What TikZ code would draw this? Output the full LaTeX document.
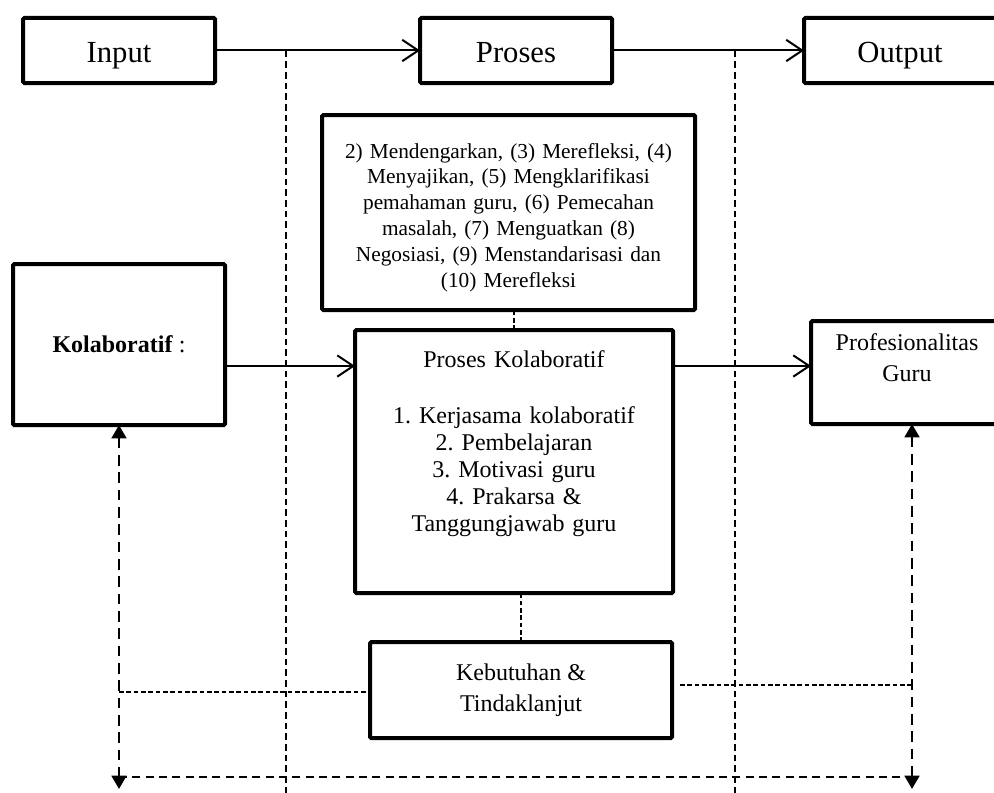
\documentclass[tikz,border=0pt]{standalone}
\usepackage{fontspec}
\setmainfont{Liberation Serif}
\usetikzlibrary{arrows.meta,positioning}
\frenchspacing

\begin{document}
\begin{tikzpicture}[
          x=0.75pt, y=-0.75pt,
          box/.style={draw, line width=3pt, rounded corners=1pt, inner sep=0pt, outer sep=0pt, align=center},
          arr/.style={line width=1.5pt, -{Straight Barb[length=12pt, width=16pt, line width=1.5pt]}},
          grid/.style={line width=1.2pt, dash pattern=on 5pt off 3pt},
          link/.style={line width=1.1pt, dash pattern=on 3.5pt off 2pt},
          loop/.style={line width=2pt, dash pattern=on 8pt off 5pt},
          tips/.style={{Triangle[length=10pt, width=11pt]}-{Triangle[length=10pt, width=11pt]}}
    ]
      \useasboundingbox (0,0) rectangle (994,792);

      % top row
      \begin{scope}[every node/.style={box, minimum width=144pt, minimum height=48.75pt, text height=19pt, text depth=1.75pt,
                    font=\fontsize{23}{27}\selectfont}]
        \node (input)  at (119,50.5) {Input};
        \node (proses) at (516,50.5) {Proses};
        \node (output) at (900,50.5) {Output};
      \end{scope}

      \draw[arr] (input) -- (proses);
      \draw[arr] (proses) -- (output);

      \coordinate (ga) at (286,50.5);
      \coordinate (gb) at (735,50.5);
      \coordinate (foot) at (0,795);
      \draw[grid] (ga) -- (ga |- foot);
      \draw[grid] (gb) -- (gb |- foot);

      % middle
      \node[box, minimum width=279.75pt, minimum height=146.25pt, text width=270pt, text depth=93pt,
            font=\fontsize{16}{19.35}\selectfont] (steps) at (508.5,212.5)
        {2) Mendengarkan, (3) Merefleksi, (4)\\ Menyajikan, (5) Mengklarifikasi\\
         pemahaman guru, (6) Pemecahan\\ masalah, (7) Menguatkan (8)\\
         Negosiasi, (9) Menstandarisasi dan\\ (10) Merefleksi};

      \node[box, minimum width=159pt, minimum height=120.75pt,
            font=\fontsize{18}{21}\selectfont] (kolab) at (119,344.5) {\textbf{Kolaboratif} :};

      \node[box, minimum width=238.5pt, minimum height=197.25pt, text width=230pt, text depth=153pt,
            font=\fontsize{18}{20.25}\selectfont] (proskol) at (514,461.5)
        {Proses Kolaboratif\\[21.75pt] 1. Kerjasama kolaboratif\\ 2. Pembelajaran\\
         3. Motivasi guru\\ 4. Prakarsa \&\\ Tanggungjawab guru};

      \node[box, minimum width=144pt, minimum height=77.25pt, text width=140pt, text depth=45pt,
            font=\fontsize{18}{23.25}\selectfont] (prof) at (907,372.5) {Profesionalitas\\ Guru};

      \node[box, minimum width=226.5pt, minimum height=72pt,
            font=\fontsize{18}{23.25}\selectfont] (keb) at (521,690) {Kebutuhan \&\\ Tindaklanjut};

      \coordinate (lvl) at (0,366);
      \draw[arr] (kolab.east |- lvl) -- (proskol.west |- lvl);
      \draw[arr] (proskol.east |- lvl) -- (prof.west |- lvl);

      \draw[link] (proskol.north) -- (proskol.north |- steps.south);
      \draw[link] (keb.north) -- (keb.north |- proskol.south);

      % feedback loop
      \coordinate (ml) at (119,692);
      \coordinate (mr) at (912,685);
      \coordinate (kr) at ([xshift=6pt]keb.east);
      \draw[link] (ml) -- (ml -| keb.west);
      \draw[link] (kr |- mr) -- (mr);

      \coordinate (el) at (119,789);
      \coordinate (er) at (912,789);
      \coordinate (hl) at (119,777);
      \coordinate (hr) at (912,777);
      \draw[loop, tips] (kolab.south) -- (el);
      \draw[loop, tips] (prof.south -| er) -- (er);
      \draw[loop, line width=1.5pt, dash pattern=on 6pt off 4pt] (hl) -- (hr);

      \end{tikzpicture}
\end{document}
